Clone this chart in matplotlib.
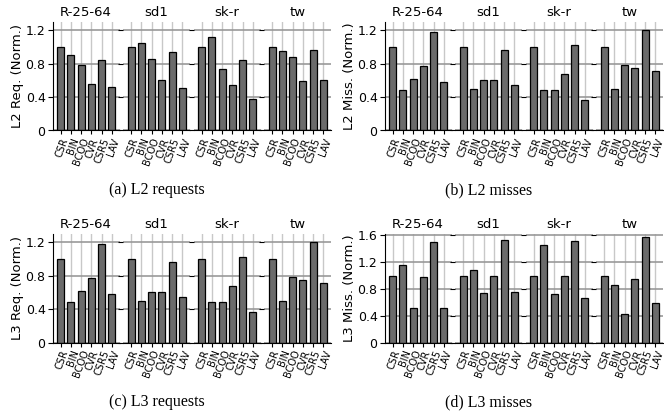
import matplotlib.pyplot as plt
import numpy as np

formats = ["CSR", "BIN", "BCOO", "CVR", "CSR5", "LAV"]
datasets = ["R-25-64", "sd1", "sk-r", "tw"]

# one row per dataset, one value per format
l2_req = [
    [1.00, 0.91, 0.78, 0.56, 0.85, 0.52],
    [1.00, 1.05, 0.86, 0.60, 0.94, 0.51],
    [1.00, 1.12, 0.74, 0.55, 0.84, 0.38],
    [1.00, 0.95, 0.88, 0.59, 0.97, 0.61],
]
l2_miss = [
    [1.00, 0.49, 0.62, 0.77, 1.18, 0.58],
    [1.00, 0.50, 0.61, 0.61, 0.97, 0.55],
    [1.00, 0.49, 0.48, 0.68, 1.03, 0.37],
    [1.00, 0.50, 0.79, 0.75, 1.21, 0.71],
]
l3_req = [
    [1.00, 0.49, 0.62, 0.77, 1.18, 0.58],
    [1.00, 0.50, 0.60, 0.61, 0.97, 0.55],
    [1.00, 0.49, 0.48, 0.68, 1.03, 0.37],
    [1.00, 0.50, 0.79, 0.75, 1.21, 0.71],
]
l3_miss = [
    [1.00, 1.15, 0.51, 0.98, 1.50, 0.51],
    [1.00, 1.08, 0.74, 1.00, 1.53, 0.75],
    [1.00, 1.45, 0.73, 0.99, 1.52, 0.67],
    [1.00, 0.86, 0.43, 0.95, 1.57, 0.59],
]

W, H = 664, 419
fig = plt.figure(figsize=(W / 100, H / 100), dpi=100)


def rect(x, y, w, h):
    return [x / W, 1 - (y + h) / H, w / W, h / H]


def panel(x0, y0, values, ylabel, ytop, yticks, yticklabels, caption):
    left, width, gap = 52.5, 67, 3.5
    top, height = 22, 108.5
    x = np.arange(len(formats))
    for i, name in enumerate(datasets):
        ax = fig.add_axes(rect(x0 + left + i * (width + gap), y0 + top, width, height))
        ax.set_axisbelow(True)
        ax.grid(axis="x", color="#c8c8c8", lw=1.0)
        ax.grid(axis="y", color="#999999", lw=1.2)
        ax.bar(x, values[i], width=0.7, color="#6b6b6b", edgecolor="black", lw=0.9)
        ax.set_xlim(-0.8, 5.75)
        ax.set_ylim(0, ytop)
        ax.set_yticks(yticks)
        ax.set_xticks(x)
        ax.set_xticklabels(formats, rotation=70, ha="right", rotation_mode="anchor")
        ax.tick_params(axis="x", labelsize=7, length=3, pad=1.5)
        ax.tick_params(axis="y", labelsize=9, length=3.5, pad=1.5)
        ax.spines["top"].set_visible(False)
        ax.spines["right"].set_visible(False)
        ax.set_title(name, fontsize=9.5, pad=4)
        if i == 0:
            ax.set_yticklabels(yticklabels)
            ax.set_ylabel(ylabel, fontsize=9.5, labelpad=1)
        else:
            ax.spines["left"].set_visible(False)
            ax.tick_params(axis="y", labelleft=False)
    fig.text((x0 + 157) / W, 1 - (y0 + 190) / H, caption, ha="center", va="center",
             fontsize=11.5, family="Liberation Serif")


t12 = [0, 0.4, 0.8, 1.2]
l12 = ["0", "0.4", "0.8", "1.2"]
t16 = [0, 0.4, 0.8, 1.2, 1.6]
l16 = ["0", "0.4", "0.8", "1.2", "1.6"]

panel(0, 0, l2_req, "L2 Req. (Norm.)", 1.3, t12, l12, "(a) L2 requests")
panel(332, 0, l2_miss, "L2 Miss. (Norm.)", 1.3, t12, l12, "(b) L2 misses")
panel(0, 212, l3_req, "L3 Req. (Norm.)", 1.3, t12, l12, "(c) L3 requests")
panel(332, 212, l3_miss, "L3 Miss. (Norm.)", 1.62, t16, l16, "(d) L3 misses")

fig.savefig("out.png", dpi=100)
